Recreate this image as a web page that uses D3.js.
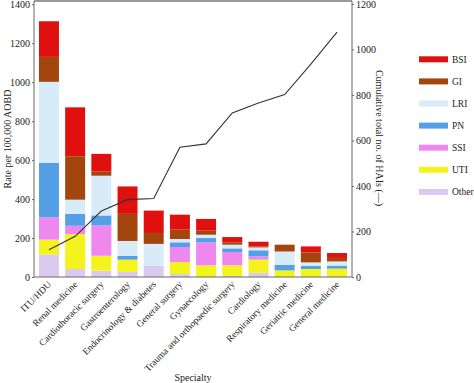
<!DOCTYPE html>
<html>
<head>
<meta charset="utf-8">
<title>HAI rates by specialty</title>
<script src="https://cdn.jsdelivr.net/npm/d3@7"></script>
<style>
  body { margin: 0; background: #fff; }
  text { font-family: "Liberation Serif", "Times New Roman", serif; fill: #222; }
</style>
</head>
<body>
<div id="container"></div>
<script>
// specialties along the x axis
var specialties = ["ITU/HDU", "Renal medicine", "Cardiothoracic surgery", "Gastroenterology",
  "Endocrinology & diabetes", "General surgery", "Gynaecology", "Trauma and orthopaedic surgery",
  "Cardiology", "Respiratory medicine", "Geriatric medicine", "General medicine"];

// infection types, bottom of stack first
var infTypes = ["Other", "UTI", "SSI", "PN", "LRI", "GI", "BSI"];
var legendOrder = ["BSI", "GI", "LRI", "PN", "SSI", "UTI", "Other"];

// rate per 100,000 AOBD, per specialty (same order as specialties)
var other = [115, 41, 32, 26, 58, 15, 0, 6, 21, 0, 0, 0];
var uti   = [77, 180, 77, 63, 0, 62, 60, 54, 68, 34, 41, 43];
var ssi   = [114, 42, 156, 0, 0, 77, 118, 68, 17, 0, 0, 0];
var pn    = [280, 61, 51, 20, 0, 24, 22, 19, 31, 29, 17, 15];
var lri   = [416, 73, 204, 76, 112, 17, 17, 19, 15, 68, 17, 22];
var gi    = [128, 223, 21, 139, 56, 48, 21, 12, 5, 35, 51, 18];
var bsi   = [183, 251, 91, 141, 115, 77, 60, 27, 24, 0, 31, 25];

// cumulative total number of HAIs (line, right axis)
var cumulative = [120, 179, 290, 340, 345, 570, 585, 721, 765, 802, 936, 1076];

var leftTicks = [0, 200, 400, 600, 800, 1000, 1200, 1400];
var rightTicks = [0, 200, 400, 600, 800, 1000, 1200];

var colors = {BSI: "#e0100f", GI: "#a3460d", LRI: "#d8ebf8", PN: "#559fe6",
  SSI: "#ee88ee", UTI: "#f3f31e", Other: "#dacaf2"};

var series = {Other: other, UTI: uti, SSI: ssi, PN: pn, LRI: lri, GI: gi, BSI: bsi};

var table = specialties.map(function(s, i) {
  var row = {name: s, cum: cumulative[i]};
  infTypes.forEach(function(t) { row[t] = series[t][i]; });
  return row;
});

var margin = {top: 1, right: 122, bottom: 106, left: 34},
  width = 474 - margin.left - margin.right,
  height = 383 - margin.top - margin.bottom;

var svg = d3.select("#container").append("svg")
    .attr("width", 474)
    .attr("height", 383)
  .append("g")
    .attr("transform", "translate(" + margin.left + "," + margin.top + ")");

var x = d3.scaleBand().domain(specialties).range([0, width])
  .paddingInner(0.237).paddingOuter(0.19);
var y = d3.scaleLinear().domain([0, 1417]).range([height, 0]);
var y2 = d3.scaleLinear().domain([0, 1213]).range([height, 0]);

var stack = d3.stack().keys(infTypes);
var layers = stack(table);

svg.selectAll("g.layer")
    .data(layers)
  .enter().append("g")
    .attr("class", "layer")
    .style("fill", function(d) { return colors[d.key]; })
  .selectAll("rect")
    .data(function(d) { return d; })
  .enter().append("rect")
    .attr("x", function(d) { return x(d.data.name); })
    .attr("width", x.bandwidth())
    .attr("y", function(d) { return y(d[1]); })
    .attr("height", function(d) { return y(d[0]) - y(d[1]); });

// cumulative line
var line = d3.line()
  .x(function(d) { return x(d.name) + x.bandwidth() / 2; })
  .y(function(d) { return y2(d.cum); });

svg.append("path")
  .datum(table)
  .attr("d", line)
  .style("fill", "none")
  .style("stroke", "#333")
  .style("stroke-width", 1.1);

// frame
svg.append("line").attr("x1", 0).attr("x2", width).attr("y1", 0).attr("y2", 0)
  .style("stroke", "#9a9a9a").style("stroke-width", 2);
svg.append("line").attr("x1", 0).attr("x2", width).attr("y1", height).attr("y2", height)
  .style("stroke", "#666").style("stroke-width", 1);

var yAxis = svg.append("g")
  .call(d3.axisLeft(y).tickValues(leftTicks).tickSize(2).tickPadding(2).tickFormat(d3.format("d")));
var y2Axis = svg.append("g")
  .attr("transform", "translate(" + width + ",0)")
  .call(d3.axisRight(y2).tickValues(rightTicks).tickSize(2).tickPadding(2).tickFormat(d3.format("d")));

[yAxis, y2Axis].forEach(function(a) {
  a.select(".domain").style("stroke", "#666").attr("d", function() {
    return "M0,0V" + height;
  });
  a.selectAll(".tick line").style("stroke", "#666");
  a.selectAll("text").style("font-family", "Liberation Serif").style("font-size", "10px").style("fill", "#222");
});

// category labels
svg.selectAll("text.cat")
    .data(specialties)
  .enter().append("text")
    .attr("class", "cat")
    .attr("text-anchor", "end")
    .attr("transform", function(d) {
      return "translate(" + (x(d) + x.bandwidth() / 2 + 3) + "," + (height + 8) + ") rotate(-45)";
    })
    .style("font-size", "9.5px")
    .text(function(d) { return d; });

// axis titles
svg.append("text")
  .attr("text-anchor", "middle")
  .attr("transform", "translate(" + (10.5 - margin.left) + "," + 138 + ") rotate(-90)")
  .style("font-size", "10px")
  .text("Rate per 100,000 AOBD");

svg.append("text")
  .attr("text-anchor", "middle")
  .attr("transform", "translate(" + (375.5 - margin.left) + "," + 137 + ") rotate(90)")
  .style("font-size", "10px")
  .text("Cumulative total no. of HAIs (\u2014)");

svg.append("text")
  .attr("text-anchor", "middle")
  .attr("x", 193 - margin.left)
  .attr("y", 381 - margin.top)
  .style("font-size", "10px")
  .text("Specialty");

// legend
var legend = svg.selectAll("g.legend")
    .data(legendOrder)
  .enter().append("g")
    .attr("class", "legend")
    .attr("transform", function(d, i) {
      return "translate(" + (419 - margin.left) + "," + (59.3 + i * 22.1 - margin.top) + ")";
    });

legend.append("rect")
  .attr("x", 0).attr("y", -3)
  .attr("width", 29).attr("height", 6)
  .style("fill", function(d) { return colors[d]; });

legend.append("text")
  .attr("x", 33).attr("y", 3.5)
  .style("font-size", "9.5px")
  .text(function(d) { return d; });
</script>
</body>
</html>
